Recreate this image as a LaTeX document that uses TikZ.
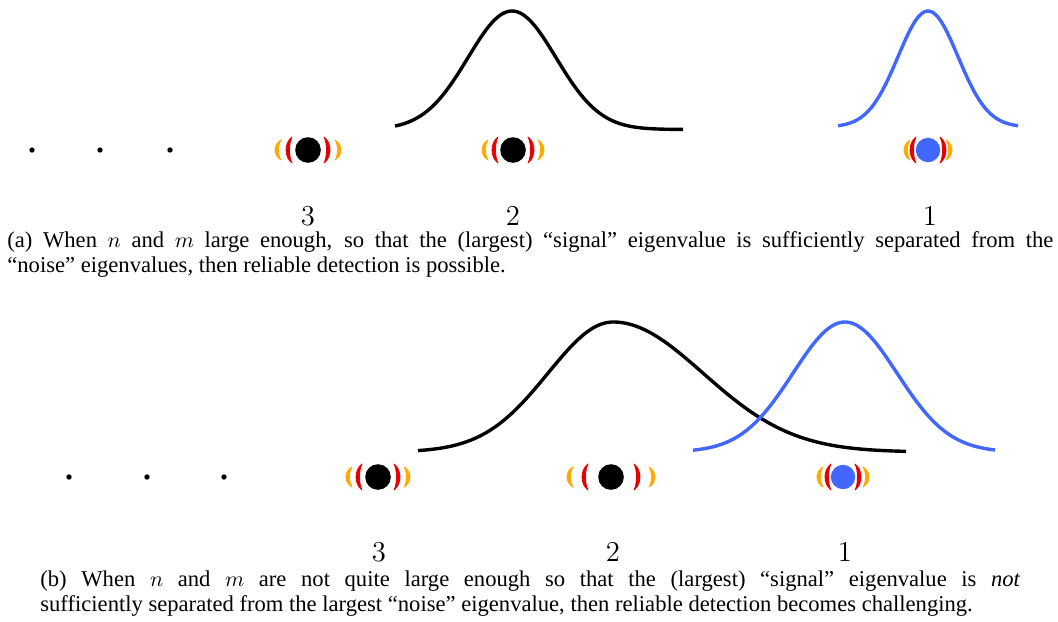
\documentclass[tikz,border=0pt]{standalone}
\usepackage[no-math]{fontspec}
\setmainfont{Liberation Serif}
\usepackage{xcolor}
\usetikzlibrary{positioning,calc}

\definecolor{sigblue}{RGB}{66,103,255}
\definecolor{waveorange}{RGB}{255,170,0}
\definecolor{wavered}{RGB}{232,0,0}

% one bracket beside a particle: node, side (-1/1), offset, half height, colour
\newcommand{\bracket}[5]{%
  \filldraw[wave, #5]
    ($(#1)+({#2*(#3-4)},{-#4})$)
    .. controls ($(#1)+({#2*(#3+4)},{-0.55*#4})$) and ($(#1)+({#2*(#3+4)},{0.55*#4})$)
    .. ($(#1)+({#2*(#3-4)},{#4})$)
    .. controls ($(#1)+({#2*(#3-0.7)},{0.55*#4})$) and ($(#1)+({#2*(#3-0.7)},{-0.55*#4})$)
    .. cycle;}
% both pairs round a particle: node, red offset, orange offset
\newcommand{\waves}[3]{%
  \bracket{#1}{-1}{#2}{13}{wavered}\bracket{#1}{1}{#2}{13}{wavered}%
  \bracket{#1}{-1}{#3}{10}{waveorange}\bracket{#1}{1}{#3}{10}{waveorange}}

\begin{document}
\begin{tikzpicture}[
  x=0.5pt, y=-0.5pt,
  curve/.style={line width=1.7pt},
  wave/.style={line width=0.4pt, line join=round},
  particle/.style={circle, fill=black, inner sep=0pt, minimum size=12.8pt},
  signal/.style={particle, fill=sigblue, minimum size=12.2pt},
  dot/.style={circle, fill=black, inner sep=0pt, minimum size=2.7pt},
  num/.style={font=\fontsize{14}{16}\selectfont},
  capt/.style={anchor=north west, inner sep=0pt, align=justify,
               font=\fontsize{11.3}{12.6}\selectfont},
]
\useasboundingbox (0,0) rectangle (1058,621);

% ---- (a) well separated ----
\draw[curve] plot[domain=395:683, samples=90, smooth]
  (\x, {129.5-118.5*exp(-((\x-512)/44)^2/2)});
\draw[curve, sigblue] plot[domain=838:1018, samples=70, smooth]
  (\x, {127-116*exp(-((\x-928)/30)^2/2)});

\node[dot] (da1) at (32,150) {};
\node[dot] (da2) at (100,150) {};
\node[dot] (da3) at (170,150) {};

\node[particle] (pa3) at (308,150) {};
\node[particle] (pa2) at (513,150) {};
\node[signal]   (pa1) at (928,150) {};
\waves{pa3}{20}{31}
\waves{pa2}{19}{29}
\waves{pa1}{16}{22}

\node[num] (la3) at (308,216) {$3$};
\node[num] (la2) at (513,216) {$2$};
\node[num] (la1) at (930,216) {$1$};

\node[capt, text width=523pt] (capa) at (7,231) {%
  (a) When $n$ and $m$ large enough, so that the (largest) ``signal'' eigenvalue
  is sufficiently separated from the\linebreak ``noise'' eigenvalues, then reliable
  detection is possible.};

% ---- (b) overlapping ----
\draw[curve] plot[domain=418:906, samples=120, smooth]
  (\x, {452-130*exp(-((\x-613)/((\x<613)?65:90))^2/2)});
\draw[curve, sigblue] plot[domain=693:995, samples=90, smooth]
  (\x, {452-130*exp(-((\x-845)/52)^2/2)});

\node[dot] (db1) at (69,477) {};
\node[dot] (db2) at (147,477) {};
\node[dot] (db3) at (224,477) {};

\node[particle] (pb3) at (378,477) {};
\node[particle] (pb2) at (611,477) {};
\node[signal]   (pb1) at (843,477) {};
\waves{pb3}{20}{30}
\waves{pb2}{27}{42}
\waves{pb1}{16}{24}

\node[num] (lb3) at (379,552) {$3$};
\node[num] (lb2) at (613,552) {$2$};
\node[num] (lb1) at (845,552) {$1$};

\node[capt, text width=490pt] (capb) at (40,570) {\parfillskip=0pt
  (b) When $n$ and $m$ are not quite large enough so that the (largest)
  ``signal'' eigenvalue is \emph{not}\linebreak sufficiently separated from the
  largest ``noise'' eigenvalue, then reliable detection becomes challenging.};
\end{tikzpicture}
\end{document}
